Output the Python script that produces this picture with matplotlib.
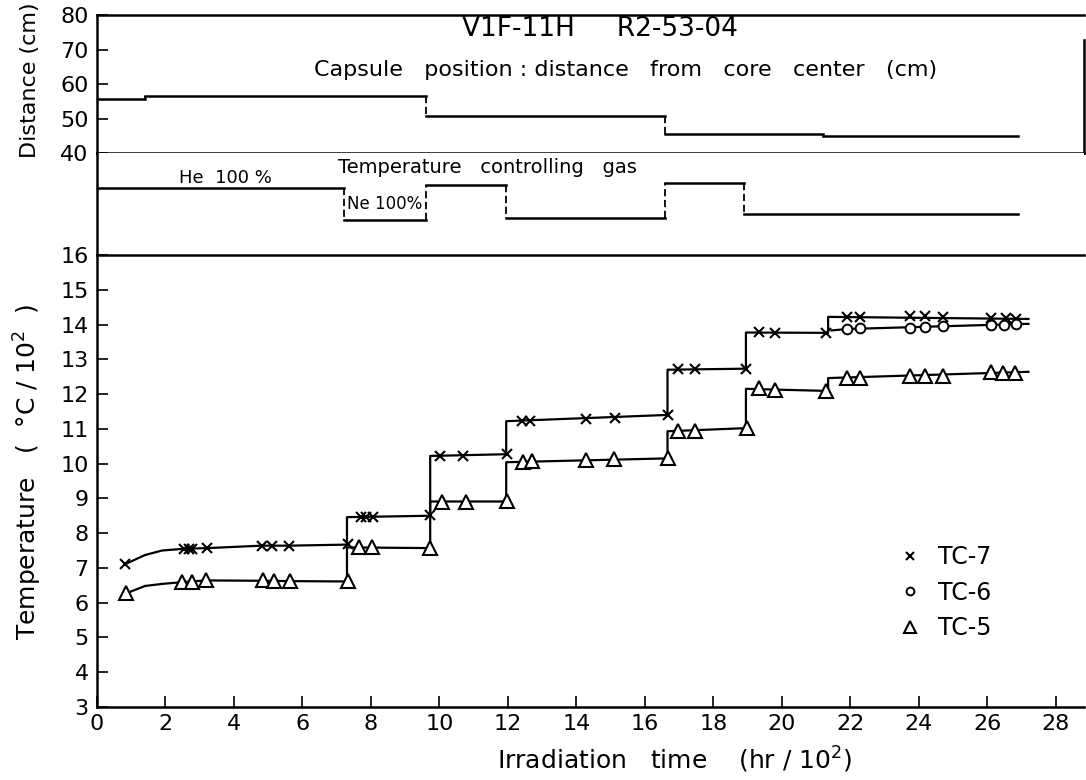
import numpy as np
import matplotlib
matplotlib.use("Agg")
import matplotlib.pyplot as plt

# capsule position (distance from core center, cm), step changes
dist_edges = [0.0, 1.4, 9.6, 16.6, 21.2, 26.9]
dist_values = [55.7, 56.5, 50.7, 45.4, 44.9]

# temperature controlling gas: 1 = He 100 %, 0 = Ne 100 %
gas_edges = [0.0, 7.2, 9.6, 11.93, 16.6, 18.9, 26.9]
gas_values = [1.0, 0.0, 1.08, 0.05, 1.15, 0.18]

# measured points (time in hr/10^2, temperature in degC/10^2)
tc7_time = [0.83, 2.53, 2.68, 2.77, 3.21, 4.82, 5.11, 5.6, 7.33, 7.7, 7.85, 8.05,
            9.73, 10.02, 10.7, 11.98, 12.4, 12.64, 14.28, 15.12, 16.66, 16.97, 17.46,
            18.95, 19.33, 19.8, 21.3, 21.9, 22.27, 23.75, 24.17, 24.7, 26.1, 26.55, 26.85]
tc7_temp = [7.11, 7.55, 7.55, 7.55, 7.57, 7.64, 7.64, 7.64, 7.69, 8.46, 8.46, 8.46,
            8.52, 10.22, 10.22, 10.29, 11.23, 11.23, 11.28, 11.3, 11.41, 12.71, 12.71,
            12.73, 13.78, 13.77, 13.76, 14.22, 14.22, 14.24, 14.24, 14.23, 14.2, 14.18, 14.17]

tc6_time = [21.9, 22.27, 23.75, 24.17, 24.7, 26.1, 26.5, 26.85]
tc6_temp = [13.87, 13.9, 13.91, 13.93, 13.95, 14.0, 14.0, 14.01]

tc5_time = [0.86, 2.48, 2.77, 3.19, 4.85, 5.16, 5.64, 7.33, 7.64, 8.03, 9.73, 10.07,
            10.77, 11.98, 12.45, 12.7, 14.27, 15.1, 16.68, 16.97, 17.46, 18.98, 19.33,
            19.8, 21.3, 21.9, 22.27, 23.75, 24.17, 24.7, 26.1, 26.45, 26.8]
tc5_temp = [6.27, 6.59, 6.59, 6.66, 6.64, 6.62, 6.62, 6.61, 7.59, 7.59, 7.57, 8.91,
            8.91, 8.92, 10.04, 10.07, 10.1, 10.12, 10.15, 10.93, 10.93, 11.02, 12.16,
            12.13, 12.09, 12.46, 12.46, 12.52, 12.52, 12.52, 12.64, 12.62, 12.62]

# hand drawn trend lines through the points
tc7_line_t = [0.83, 1.4, 1.9, 2.53, 3.21, 4.82, 5.6, 7.3, 7.3, 9.73, 9.73, 11.95, 11.95,
              16.66, 16.66, 18.95, 18.95, 21.35, 21.35, 27.2]
tc7_line_T = [7.11, 7.37, 7.5, 7.55, 7.57, 7.64, 7.64, 7.67, 8.46, 8.5, 10.22, 10.27,
              11.22, 11.4, 12.7, 12.73, 13.77, 13.76, 14.22, 14.16]
tc6_line_t = [21.45, 21.9, 24.7, 27.2]
tc6_line_T = [13.83, 13.87, 13.95, 14.02]
tc5_line_t = [0.86, 1.4, 1.9, 2.48, 3.19, 4.85, 5.64, 7.3, 7.3, 9.73, 9.73, 11.95, 11.95,
              16.66, 16.66, 18.95, 18.95, 21.35, 21.35, 27.2]
tc5_line_T = [6.27, 6.48, 6.54, 6.59, 6.64, 6.63, 6.62, 6.61, 7.59, 7.57, 8.91, 8.91,
              10.04, 10.15, 10.93, 11.02, 12.15, 12.09, 12.46, 12.64]

x_ticks = list(range(0, 29, 2))


def draw_steps(ax, edges, values, lw=1.8):
    # solid horizontal runs, dashed vertical changes
    for i, v in enumerate(values):
        ax.plot([edges[i], edges[i + 1]], [v, v], color="black", lw=lw)
        if i > 0:
            ax.plot([edges[i], edges[i]], [values[i - 1], v], color="black",
                    lw=1.3, ls=(0, (4, 2)))


plt.rcParams["font.family"] = "DejaVu Sans"
fig = plt.figure(figsize=(10.86, 7.80), dpi=100)

xmax = 28.82
ax_d = fig.add_axes([0.0893, 0.8038, 0.9088, 0.1769])
ax_g = fig.add_axes([0.0893, 0.6731, 0.9088, 0.1308])
ax_t = fig.add_axes([0.0893, 0.0936, 0.9088, 0.5795])

# ---- distance panel
draw_steps(ax_d, dist_edges, dist_values)
ax_d.set_xlim(0, xmax)
ax_d.set_ylim(40, 80)
ax_d.set_yticks([40, 50, 60, 70, 80])
ax_d.set_xticks([])
ax_d.tick_params(axis="y", direction="in", length=8, width=1.2, labelsize=16, pad=6)
for s in ax_d.spines.values():
    s.set_linewidth(1.8)
ax_d.spines["right"].set_bounds(40, 72.7)
ax_d.text(0.51, 0.9, "V1F-11H     R2-53-04", transform=ax_d.transAxes,
          ha="center", va="center", fontsize=19)
ax_d.text(0.536, 0.6, "Capsule   position : distance   from   core   center   (cm)",
          transform=ax_d.transAxes, ha="center", va="center", fontsize=16)
fig.text(0.028, 0.897, "Distance (cm)", rotation=90, ha="center", va="center",
         fontsize=16)

# ---- gas panel
draw_steps(ax_g, gas_edges, gas_values)
ax_g.set_xlim(0, xmax)
ax_g.set_ylim(-1.08, 2.07)
ax_g.set_xticks([])
ax_g.set_yticks([])
for side in ["top", "right", "bottom"]:
    ax_g.spines[side].set_visible(False)
ax_g.spines["left"].set_linewidth(1.8)
ax_g.text(0.396, 0.853, "Temperature   controlling   gas", transform=ax_g.transAxes,
          ha="center", va="center", fontsize=14)
ax_g.text(0.083, 0.755, "He  100 %", transform=ax_g.transAxes,
          ha="left", va="center", fontsize=13)
ax_g.text(8.4, 0.5, "Ne 100%", ha="center", va="center", fontsize=12)

# ---- temperature panel
ax_t.plot(tc7_line_t, tc7_line_T, color="black", lw=1.6)
ax_t.plot(tc6_line_t, tc6_line_T, color="black", lw=1.6)
ax_t.plot(tc5_line_t, tc5_line_T, color="black", lw=1.6)
ax_t.plot(tc7_time, tc7_temp, ls="none", marker="x", ms=7, mew=1.5, color="black",
          label="TC-7")
ax_t.plot(tc6_time, tc6_temp, ls="none", marker="o", ms=7, mew=1.4, mfc="white",
          color="black", label="TC-6")
ax_t.plot(tc5_time, tc5_temp, ls="none", marker="^", ms=10, mew=1.5, mfc="white",
          color="black", label="TC-5")
ax_t.set_xlim(0, xmax)
ax_t.set_ylim(3, 16)
ax_t.set_yticks(range(3, 17))
ax_t.set_xticks(x_ticks)
ax_t.tick_params(axis="both", direction="in", length=8, width=1.2, labelsize=16)
ax_t.tick_params(axis="y", pad=6)
ax_t.tick_params(axis="x", pad=5)
ax_t.spines["right"].set_visible(False)
for side in ["left", "bottom", "top"]:
    ax_t.spines[side].set_linewidth(1.8)

leg = ax_t.legend(loc="upper left", bbox_to_anchor=(0.80, 0.385), frameon=False,
                  fontsize=17, handlelength=1.0, handletextpad=0.7, labelspacing=0.5,
                  borderpad=0, markerscale=0.8)

fig.text(0.026, 0.395, "Temperature   (  °C / 10$^2$  )", rotation=90, ha="center",
         va="center", fontsize=18)
fig.text(0.6215, 0.026, "Irradiation   time    (hr / 10$^2$)", ha="center",
         va="center", fontsize=18)

fig.savefig("out.png", dpi=100)
